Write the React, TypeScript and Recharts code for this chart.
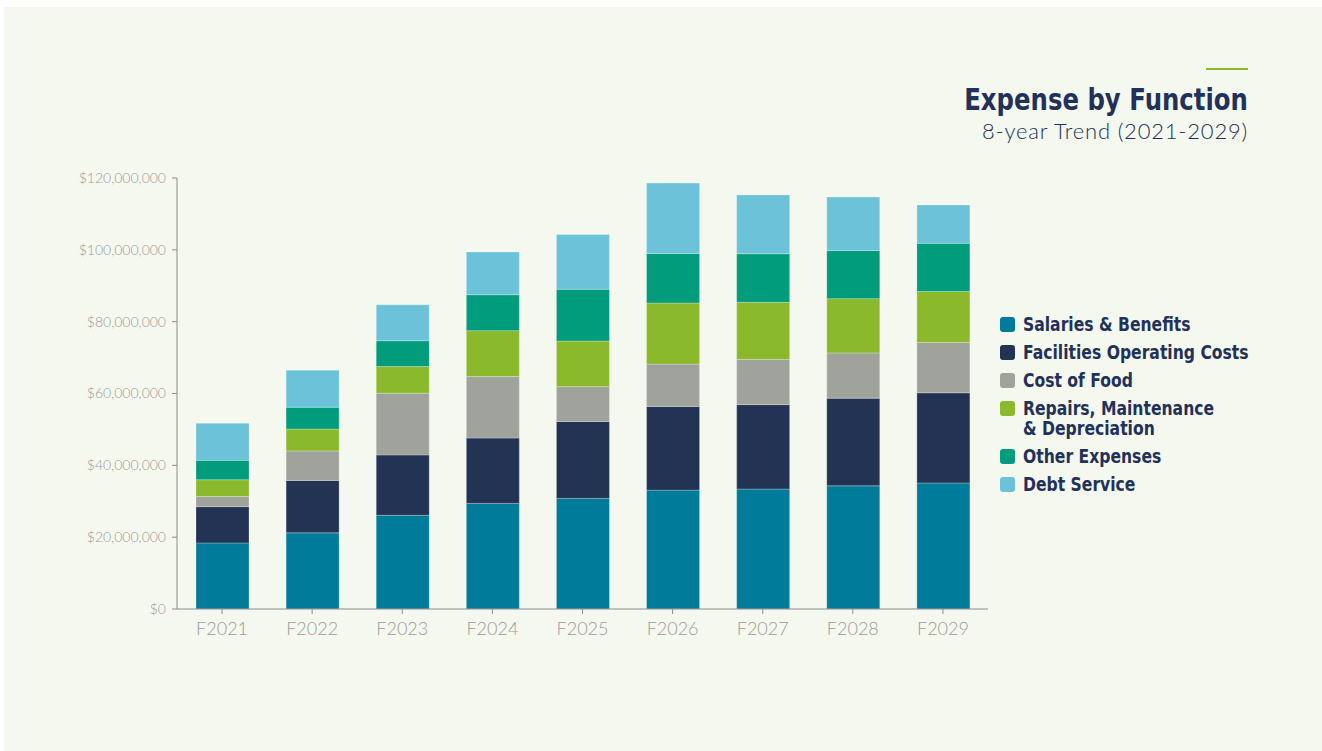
import React from "react"
import { BarChart, Bar, XAxis, YAxis } from "recharts"

// values in millions of dollars
const years = ["F2021", "F2022", "F2023", "F2024", "F2025", "F2026", "F2027", "F2028", "F2029"]
const salaries = [18.4, 21.2, 26.1, 29.4, 30.8, 33.1, 33.4, 34.3, 35.1]
const facilities = [10.1, 14.6, 16.8, 18.2, 21.4, 23.3, 23.5, 24.4, 25.1]
const food = [2.8, 8.2, 17.2, 17.1, 9.7, 11.8, 12.6, 12.6, 14.0]
const repairs = [4.7, 6.1, 7.4, 12.8, 12.7, 17.0, 15.9, 15.1, 14.2]
const other = [5.4, 6.1, 7.2, 10.0, 14.4, 13.8, 13.5, 13.4, 13.4]
const debt = [10.3, 10.3, 10.0, 11.9, 15.3, 19.6, 16.4, 14.9, 10.7]
const yTicks = [0, 20, 40, 60, 80, 100, 120]

const series = [
  { key: "salaries", label: "Salaries & Benefits", color: "#007b99" },
  { key: "facilities", label: "Facilities Operating Costs", color: "#233353" },
  { key: "food", label: "Cost of Food", color: "#a0a39c" },
  { key: "repairs", label: "Repairs, Maintenance\n& Depreciation", color: "#8aba2c" },
  { key: "other", label: "Other Expenses", color: "#009c7b" },
  { key: "debt", label: "Debt Service", color: "#6cc3d9" },
]

const data = years.map((year, i) => ({
  year,
  salaries: salaries[i],
  facilities: facilities[i],
  food: food[i],
  repairs: repairs[i],
  other: other[i],
  debt: debt[i],
}))

const navy = "#22315a"
const boldFont = "'DejaVu Sans', sans-serif"

export default function App() {
  return (
    <div style={{ position: "fixed", left: 0, top: 0, width: 1322, height: 751, background: "#ffffff", overflow: "hidden" }}>
      <div style={{ position: "absolute", left: 4, top: 7, right: 0, bottom: 0, background: "#f5f8ee" }} />

      {/* title block */}
      <div style={{ position: "absolute", left: 1206, top: 68, width: 42, height: 2, background: "#8aba2c" }} />
      <div
        style={{
          position: "absolute",
          right: 74,
          top: 81,
          fontFamily: boldFont,
          fontWeight: 700,
          fontSize: 31,
          color: navy,
          lineHeight: "36px",
          whiteSpace: "nowrap",
          transform: "scaleX(0.786)",
          transformOrigin: "right center",
        }}
      >
        Expense by Function
      </div>
      <div
        style={{
          position: "absolute",
          right: 74,
          top: 117,
          fontFamily: "Lato, 'Open Sans', sans-serif",
          fontWeight: 300,
          fontSize: 22,
          letterSpacing: 0.8,
          color: navy,
          lineHeight: "28px",
          whiteSpace: "nowrap",
        }}
      >
        8-year Trend (2021-2029)
      </div>

      <div style={{ position: "absolute", left: 0, top: 0 }}>
        <BarChart width={1000} height={680} data={data} margin={{ top: 178, right: 12, bottom: 31, left: 7 }}>
          <XAxis
            dataKey="year"
            height={40}
            axisLine={{ stroke: "#8c8c8c" }}
            tickLine={{ stroke: "#8c8c8c" }}
            tickSize={5}
            tickMargin={8}
            tick={{ fill: "#9b9b9b", fontSize: 18, fontFamily: "Lato, sans-serif", fontWeight: 300 }}
          />
          <YAxis
            width={170}
            domain={[0, 120]}
            ticks={yTicks}
            interval={0}
            axisLine={{ stroke: "#8c8c8c" }}
            tickLine={{ stroke: "#8c8c8c" }}
            tickSize={5}
            tickMargin={6}
            tick={{ fill: "#9b9b9b", fontSize: 14, fontFamily: "Lato, sans-serif", fontWeight: 300 }}
            tickFormatter={(v: number) => `$${(v * 1000000).toLocaleString("en-US")}`}
          />
          {series.map((s) => (
            <Bar
              key={s.key}
              dataKey={s.key}
              stackId="a"
              fill={s.color}
              barSize={53}
              stroke="rgba(255,255,255,0.25)"
              strokeWidth={1}
              isAnimationActive={false}
            />
          ))}
        </BarChart>
      </div>

      {/* legend */}
      <div style={{ position: "absolute", left: 1000, top: 314 }}>
        {series.map((s) => (
          <div key={s.key} style={{ display: "flex", alignItems: "flex-start", marginBottom: 8 }}>
            <div style={{ width: 15, height: 15, borderRadius: 3, background: s.color, marginTop: 2.5, marginRight: 8, flexShrink: 0 }} />
            <div
              style={{
                fontFamily: boldFont,
                fontWeight: 700,
                fontSize: 20,
                lineHeight: "20px",
                color: navy,
                whiteSpace: "pre",
                transform: "scaleX(0.78)",
                transformOrigin: "left center",
              }}
            >
              {s.label}
            </div>
          </div>
        ))}
      </div>
    </div>
  )
}
